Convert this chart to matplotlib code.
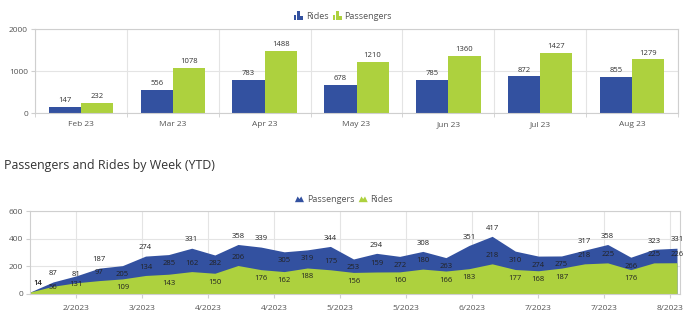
import numpy as np
import matplotlib
matplotlib.use('Agg')
import matplotlib.pyplot as plt
from matplotlib.patches import Rectangle, Polygon, Patch
from matplotlib.legend_handler import HandlerBase

plt.rcParams['font.family'] = ['Open Sans', 'DejaVu Sans']

# monthly data
months = ['Feb 23', 'Mar 23', 'Apr 23', 'May 23', 'Jun 23', 'Jul 23', 'Aug 23']
rides_month = [147, 556, 783, 678, 785, 872, 855]
passengers_month = [232, 1078, 1488, 1210, 1360, 1427, 1279]

# weekly data (YTD)
passengers_week = [14, 87, 131, 187, 205, 274, 285, 331, 282, 358, 339, 305, 319, 344, 253,
                   294, 272, 308, 263, 351, 417, 310, 274, 275, 317, 358, 266, 323, 331]
rides_week = [14, 56, 81, 97, 109, 134, 143, 162, 150, 206, 176, 162, 188, 175, 156,
              159, 160, 180, 166, 183, 218, 177, 168, 187, 218, 225, 176, 225, 226]
week_ticks = ['2/2023', '3/2023', '4/2023', '4/2023', '5/2023', '5/2023', '6/2023',
              '7/2023', '7/2023', '8/2023']

BLUE = '#3351a0'
GREEN = '#add13e'
GRID = '#e4e4e4'
AXIS = '#cfcfcf'
TXT = '#555555'
W, H = 694, 327


class BarIcon(HandlerBase):
    def create_artists(self, legend, orig, xd, yd, width, height, fontsize, trans):
        c = orig.get_facecolor()
        bw = width / 3.6
        out = []
        for i, f in enumerate([0.6, 1.0, 0.45]):
            out.append(Rectangle((-xd + i * bw * 1.3, -yd), bw, height * f,
                                 facecolor=c, edgecolor='none', transform=trans))
        return out


class AreaIcon(HandlerBase):
    def create_artists(self, legend, orig, xd, yd, width, height, fontsize, trans):
        c = orig.get_facecolor()
        x0, y0, h = -xd, -yd, height * 1.0
        pts = [(x0, y0), (x0 + width * 0.3, y0 + h), (x0 + width * 0.5, y0 + h * 0.55),
               (x0 + width * 0.7, y0 + h), (x0 + width, y0)]
        return [Polygon(pts, closed=True, facecolor=c, edgecolor='none', transform=trans)]


def style_axes(ax):
    for s in ax.spines.values():
        s.set_color(AXIS)
        s.set_linewidth(0.8)
    ax.tick_params(colors=AXIS, labelcolor=TXT, labelsize=6, length=3, width=0.8, pad=2)
    ax.set_axisbelow(True)


fig = plt.figure(figsize=(W / 100, H / 100), dpi=100)

# ---- top: monthly bars
ax1 = fig.add_axes([35 / W, 1 - 113 / H, (678 - 35) / W, (113 - 29) / H])
style_axes(ax1)
x = np.arange(len(months))
bw = 0.35
b1 = ax1.bar(x - bw / 2, rides_month, bw, color=BLUE, label='Rides')
b2 = ax1.bar(x + bw / 2, passengers_month, bw, color=GREEN, label='Passengers')
ax1.bar_label(b1, padding=2, fontsize=5.5, color='#333333')
ax1.bar_label(b2, padding=2, fontsize=5.5, color='#333333')
ax1.set_xlim(-0.5, len(months) - 0.5)
ax1.set_ylim(0, 2000)
ax1.set_yticks([0, 1000, 2000])
ax1.set_xticks(x)
ax1.set_xticklabels(months)
ax1.set_xticks(np.arange(-0.5, len(months)), minor=True)
ax1.tick_params(axis='x', which='major', length=0, pad=6)
ax1.tick_params(axis='x', which='minor', length=3, color=AXIS)
ax1.grid(axis='y', color=GRID, lw=0.8)
ax1.grid(axis='x', which='minor', color=GRID, lw=0.8)

fig.legend(handles=[Patch(color=BLUE, label='Rides'), Patch(color=GREEN, label='Passengers')],
           handler_map={Patch: BarIcon()}, loc='center', bbox_to_anchor=(343 / W, 1 - 16 / H),
           ncol=2, frameon=False, fontsize=6.5, handlelength=1.0, handleheight=1.2,
           handletextpad=0.3, columnspacing=0.5, labelcolor=TXT)

fig.text(4 / W, 1 - 165 / H, 'Passengers and Rides by Week (YTD)', fontsize=8.9,
         color='#333333', va='center', ha='left')

# ---- bottom: weekly areas
ax2 = fig.add_axes([30 / W, 1 - 294 / H, (680 - 30) / W, 83 / H])
style_axes(ax2)
wx = np.arange(len(passengers_week))
ax2.fill_between(wx, passengers_week, color=BLUE, lw=0, label='Passengers')
ax2.fill_between(wx, rides_week, color=GREEN, lw=0, label='Rides')
ax2.set_xlim(0, len(wx) - 1 + 0.13)
ax2.set_ylim(0, 600)
ax2.set_yticks([0, 200, 400, 600])
ax2.set_xticks(2 + np.arange(len(week_ticks)) * 20 / 7)
ax2.set_xticklabels(week_ticks)
ax2.tick_params(axis='x', pad=5)
ax2.grid(color=GRID, lw=0.8)


# labels above on peaks, below in dips
def label_y(vals, i):
    v = vals[i]
    up = True
    if 0 < i < len(vals) - 1:
        up = v >= (vals[i - 1] + vals[i + 1]) / 2
    return max(v + 60 if up else v - 65, 50)


for i in wx:
    lx = max(i, 0.35)
    py = label_y(passengers_week, i)
    ry = label_y(rides_week, i)
    if i > 0 and abs(py - ry) < 75:
        ry = max(rides_week[i] - 65, 50)
    ax2.text(lx, py, str(passengers_week[i]), fontsize=5.5, color='#222222',
             ha='center', va='center', clip_on=False)
    ax2.text(lx, ry, str(rides_week[i]), fontsize=5.5, color='#222222',
             ha='center', va='center', clip_on=False)

fig.legend(handles=[Patch(color=BLUE, label='Passengers'), Patch(color=GREEN, label='Rides')],
           handler_map={Patch: AreaIcon()}, loc='center', bbox_to_anchor=(344 / W, 1 - 200 / H),
           ncol=2, frameon=False, fontsize=6.5, handlelength=1.0, handleheight=0.6,
           handletextpad=0.3, columnspacing=0.5, labelcolor=TXT)

fig.savefig('out.png', dpi=100, facecolor='white')
